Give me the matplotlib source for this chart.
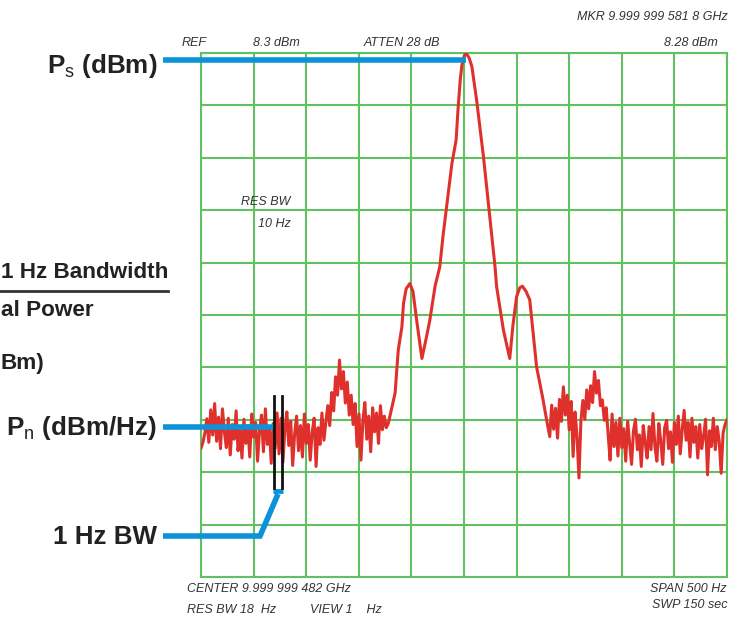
import numpy as np
import matplotlib
matplotlib.use("Agg")
import matplotlib.pyplot as plt
from matplotlib.lines import Line2D

plt.rcParams['font.family'] = ['Liberation Sans', 'DejaVu Sans']
plt.rcParams['mathtext.fontset'] = 'custom'
plt.rcParams['mathtext.rm'] = 'Liberation Sans'

# trace: offset from center (Hz) and level (dBm), 50 Hz/div, 10 dB/div
ref_level = 8.3
span = 500

left_noise = [
    -67.1, -66.0, -64.2, -61.5, -66.0, -59.8, -64.6, -58.6, -65.8, -61.2,
    -67.2, -59.6, -64.0, -67.0, -61.4, -68.4, -62.6, -65.4, -60.0, -67.6,
    -63.4, -69.0, -61.6, -66.2, -62.8, -68.8, -60.6, -65.0, -62.2, -69.6,
    -63.8, -60.8, -67.8, -59.6, -66.4, -63.0, -70.0, -62.4, -67.2, -60.4,
    -68.2, -61.4, -69.8, -63.6, -60.2, -66.6, -62.0, -70.4, -64.4, -61.0,
    -67.6, -62.8, -68.8, -60.6, -66.2, -62.6, -69.4, -64.0, -61.4, -70.6,
    -63.2, -66.4, -60.4, -65.6, -62.2, -59.0, -62.8, -56.5, -60.0, -53.5,
    -57.0, -50.3, -55.8, -52.5, -58.5, -54.5, -60.8, -57.0, -62.6, -58.6,
    -66.8, -60.6, -69.4, -61.8, -58.4, -65.4, -61.0, -67.8, -59.4, -64.0,
    -60.4, -66.2, -59.0, -63.6, -61.0, -63.2, -62.4,
]

sig_freq = [-72, -65.5, -62.5, -59, -57.5, -55, -51.5, -48.5, -45, -40,
            -36, -32.5, -27.5, -23, -20, -16.5, -11.5, -7.5, -5.5, -3.5,
            -2, 0, 2, 5, 7.5, 12, 18.5, 24.5, 29.5, 31,
            37.5, 43.5, 46.5, 50, 53, 55.5, 59, 62.5, 69, 75,
            78.5, 81.5]
sig_level = [-62.4, -56.6, -48.4, -43.9, -39.5, -36.7, -35.7, -37.2, -42.7, -50.0,
             -46.2, -42.7, -36.2, -32.5, -26.7, -21.0, -12.8, -8.3, -1.9, 3.3,
             6.0, 7.6, 8.28, 7.3, 5.7, -0.7, -11.5, -22.9, -32.5, -36.3,
             -44.6, -50.0, -43.7, -38.2, -36.5, -36.2, -37.2, -38.8, -51.6, -57.7,
             -61.7, -64.9]

right_noise = [
    -64.9, -58.9, -63.5, -59.5, -65.2, -57.8, -62.0, -55.4, -60.8, -57.0,
    -63.6, -58.2, -68.7, -60.2, -64.8, -72.8, -62.0, -58.0, -61.6, -56.0,
    -59.6, -55.2, -58.4, -52.5, -56.6, -54.2, -59.0, -57.9, -61.8, -59.4,
    -64.6, -69.4, -60.6, -66.8, -62.2, -68.6, -61.4, -67.0, -63.4, -69.6,
    -62.0, -66.2, -70.2, -63.8, -61.6, -67.4, -64.6, -70.6, -62.8, -66.0,
    -69.0, -63.0, -67.4, -60.5, -66.8, -69.6, -62.4, -65.8, -70.2, -63.2,
    -61.8, -67.2, -64.0, -69.8, -62.2, -66.4, -61.0, -68.2, -63.6, -59.9,
    -65.6, -62.2, -68.8, -61.4, -66.0, -63.0, -69.0, -62.6, -67.2, -64.8,
    -61.6, -72.2, -63.8, -66.8, -61.4, -67.4, -63.0, -65.8, -71.9, -64.2,
    -62.6, -61.7,
]

left_freq = np.linspace(-250, sig_freq[0], len(left_noise))
right_freq = np.linspace(sig_freq[-1], 250, len(right_noise))
freq = np.concatenate([left_freq, sig_freq[1:-1], right_freq])
level = np.concatenate([left_noise, sig_level[1:-1], right_noise])

W, H = 730, 617
fig = plt.figure(figsize=(W / 100, H / 100), dpi=100)


def fx(x):
    return x / W


def fy(y):
    return 1 - y / H


ax = fig.add_axes([fx(201), fy(577), 526 / W, 524 / H])
green = '#62c062'
ax.set_xlim(-span / 2, span / 2)
ax.set_ylim(ref_level - 100, ref_level)
ax.set_xticks(np.arange(-250, 251, 50))
ax.set_yticks(np.arange(ref_level - 100, ref_level + 0.1, 10))
ax.grid(True, color=green, linewidth=1.5)
ax.tick_params(length=0, labelbottom=False, labelleft=False)
for s in ax.spines.values():
    s.set_color(green)
    s.set_linewidth(1.5)

ax.plot(freq, level, color='#e0302c', linewidth=2.2, solid_joinstyle='round', zorder=3)

blue = '#0b92d8'


def fline(xs, ys, **kw):
    fig.add_artist(Line2D([fx(x) for x in xs], [fy(y) for y in ys],
                          transform=fig.transFigure, **kw))


# blue leader lines
fline([163, 466], [59.5, 59.5], color=blue, linewidth=4, solid_capstyle='butt', zorder=5)
fline([163, 274], [427, 427], color=blue, linewidth=4, solid_capstyle='butt', zorder=5)
fline([163, 260, 278], [536, 536, 494], color=blue, linewidth=4,
      solid_capstyle='butt', solid_joinstyle='miter', zorder=5)
fline([273, 283], [491, 491], color=blue, linewidth=3.5, solid_capstyle='butt', zorder=5)

# 1 Hz bandwidth markers
fline([274, 274], [396, 488], color='#111111', linewidth=2, zorder=6)
fline([282, 282], [396, 488], color='#111111', linewidth=2, zorder=6)

# big labels
big = dict(fontsize=18.7, fontweight='bold', color='#222222', ha='right', va='center')
fig.text(fx(157), fy(66), r'P$_\mathrm{s}$ (dBm)', **big)
fig.text(fx(157), fy(428), r'P$_\mathrm{n}$ (dBm/Hz)', **big)
fig.text(fx(157), fy(537), '1 Hz BW', **big)

# fraction at the left edge, shown cropped as in the source picture
mid = dict(fontsize=16.2, fontweight='bold', color='#222222', va='center')
fig.text(fx(168), fy(273), '1 Hz Bandwidth', ha='right', **mid)
fline([0, 168], [291, 291], color='#333333', linewidth=2)
fig.text(fx(1), fy(310), 'al Power', ha='left', **mid)
fig.text(fx(1), fy(363), 'Bm)', ha='left', **mid)

# analyzer annotations
small = dict(fontsize=9, style='italic', color='#333333', va='center')
fig.text(fx(182), fy(43), 'REF', ha='left', **small)
fig.text(fx(253), fy(43), '8.3 dBm', ha='left', **small)
fig.text(fx(364), fy(43), 'ATTEN 28 dB', ha='left', **small)
fig.text(fx(718), fy(43), '8.28 dBm', ha='right', **small)
fig.text(fx(728), fy(17), 'MKR 9.999 999 581 8 GHz', ha='right', **small)
fig.text(fx(241), fy(202), 'RES BW', ha='left', **small)
fig.text(fx(258), fy(224), '10 Hz', ha='left', **small)
fig.text(fx(187), fy(589), 'CENTER 9.999 999 482 GHz', ha='left', **small)
fig.text(fx(187), fy(610), 'RES BW 18  Hz', ha='left', **small)
fig.text(fx(310), fy(610), 'VIEW 1    Hz', ha='left', **small)
fig.text(fx(727), fy(589), 'SPAN 500 Hz', ha='right', **small)
fig.text(fx(727), fy(605), 'SWP 150 sec', ha='right', **small)

fig.savefig('out.png', dpi=100)
